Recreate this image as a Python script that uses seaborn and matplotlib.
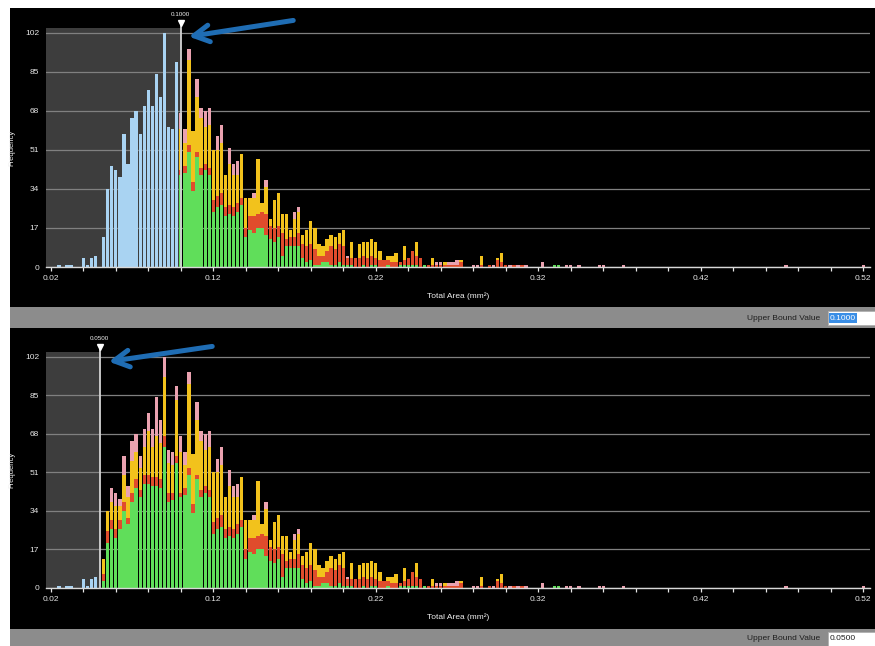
import numpy as np
import pandas as pd
import matplotlib
matplotlib.use("Agg")
import matplotlib.pyplot as plt
import seaborn as sns
from matplotlib.patches import Rectangle, FancyArrowPatch

# histogram bins are 0.0025 wide, bars sit on the bin start value
BIN = 0.0025

# counts for bins starting at 0.0200 .. 0.0500 (below the lower threshold)
low_counts = [0, 0, 1, 0, 1, 1, 0, 0, 4, 1, 4, 5, 0]

# stacked classes for bins starting at 0.0525 .. 0.3700
green = [3, 20, 26, 22, 26, 34, 28, 38, 44, 40,
         46, 46, 45, 45, 44, 62, 38, 39, 55, 40,
         41, 50, 33, 48, 40, 42, 40, 24, 26, 27,
         22, 23, 22, 24, 27, 13, 16, 15, 17, 17,
         14, 12, 11, 13, 5, 9, 9, 9, 9, 4,
         2, 3, 1, 1, 2, 2, 1, 1, 2, 1,
         1, 1, 0, 0, 1, 0, 1, 1, 0, 0,
         1, 0, 0, 1, 1, 1, 1, 1, 0, 1,
         0, 0, 0, 0, 0, 0, 0, 0, 0, 0,
         0, 0, 0, 0, 0, 0, 0, 0, 0, 0,
         0, 0, 0, 0, 0, 0, 0, 0, 0, 0,
         0, 1, 1, 0, 0, 0, 0, 0, 0, 0,
         0, 0, 0, 0, 0, 0, 0, 0, 0]
red = [3, 5, 4, 4, 4, 4, 3, 4, 4, 3,
       4, 4, 4, 4, 4, 5, 4, 3, 3, 2,
       3, 3, 4, 2, 3, 3, 3, 5, 5, 5,
       4, 4, 4, 4, 3, 4, 6, 7, 6, 7,
       9, 6, 6, 5, 10, 3, 4, 4, 6, 6,
       7, 7, 7, 4, 3, 5, 8, 7, 8, 8,
       3, 3, 4, 4, 4, 4, 4, 3, 3, 3,
       2, 2, 2, 1, 2, 3, 6, 4, 4, 0,
       1, 1, 1, 1, 1, 1, 1, 1, 2, 0,
       0, 0, 0, 1, 0, 1, 0, 3, 2, 1,
       0, 1, 0, 1, 0, 0, 0, 0, 0, 0,
       0, 0, 0, 0, 0, 0, 0, 0, 0, 0,
       0, 0, 0, 0, 0, 0, 0, 0, 0]
yellow = [7, 9, 8, 10, 6, 12, 9, 14, 12, 10,
          12, 19, 13, 18, 16, 26, 13, 12, 25, 18,
          10, 37, 22, 24, 22, 16, 19, 22, 20, 22,
          14, 18, 14, 12, 19, 13, 8, 8, 24, 4,
          12, 3, 12, 14, 8, 11, 3, 8, 9, 4,
          7, 10, 9, 5, 4, 5, 5, 5, 5, 7,
          0, 7, 0, 6, 6, 7, 7, 7, 4, 0,
          2, 3, 4, 0, 6, 0, 0, 6, 0, 0,
          0, 3, 0, 0, 1, 0, 0, 0, 1, 0,
          0, 0, 0, 4, 0, 0, 0, 1, 4, 0,
          0, 0, 0, 0, 0, 0, 0, 0, 0, 0,
          0, 0, 0, 0, 0, 0, 0, 0, 0, 0,
          0, 0, 0, 0, 0, 0, 0, 0, 0]
pink = [0, 0, 6, 6, 3, 8, 5, 9, 8, 5,
        8, 8, 8, 17, 10, 9, 6, 6, 6, 7,
        6, 5, 0, 8, 4, 7, 7, 0, 6, 8,
        0, 7, 5, 6, 0, 0, 0, 2, 0, 0,
        3, 0, 0, 0, 0, 0, 0, 3, 2, 0,
        0, 0, 0, 0, 0, 0, 0, 0, 0, 0,
        1, 0, 0, 0, 0, 0, 0, 0, 0, 0,
        0, 0, 0, 0, 0, 0, 0, 0, 0, 0,
        0, 0, 1, 1, 0, 1, 1, 2, 0, 0,
        0, 1, 1, 0, 0, 0, 1, 0, 0, 0,
        1, 0, 1, 0, 1, 0, 0, 0, 2, 0,
        0, 0, 0, 0, 1, 1, 0, 1, 0, 0,
        0, 0, 1, 1, 0, 0, 0, 0, 1]

# two isolated large objects
far_area = [0.4725, 0.5200]
far_pink = [1, 1]

thresholds = [0.1000, 0.0500]
threshold_labels = ["0.1000", "0.0500"]
ytick_vals = [0, 17, 34, 51, 68, 85, 102]
xtick_vals = [0.02, 0.12, 0.22, 0.32, 0.42, 0.52]

colors = {"green": "#60de5a", "red": "#e04c2c", "yellow": "#f2c21c",
          "pink": "#eaa2b0", "blue": "#a9d3f2"}
SHADE = "#3d3d3d"
ARROW = "#1f6db4"
XLIM = (0.01705, 0.52412)
YLIM = (0, 104)
FS = 6

plt.rcParams["font.family"] = ["Liberation Sans", "DejaVu Sans"]

# long table of counts
rows = []
for i, c in enumerate(low_counts):
    rows.append((round(0.02 + BIN * i, 4), c, "blue"))
for cls, vals in [("green", green), ("red", red), ("yellow", yellow), ("pink", pink)]:
    for i, c in enumerate(vals):
        rows.append((round(0.02 + BIN * (13 + i), 4), c, cls))
for a, c in zip(far_area, far_pink):
    rows.append((a, c, "pink"))
df = pd.DataFrame(rows, columns=["area", "count", "cls"])
df = df[df["count"] > 0]

# plain list, seaborn compares bins against "auto" when weights are used
edges = list(0.02 - BIN / 2 + BIN * np.arange(202))


def draw_panel(ax, threshold, label):
    ax.set_facecolor("black")
    ax.axvspan(XLIM[0], threshold, color=SHADE, lw=0, zorder=0.1)

    below = df[df["area"] < threshold - 1e-9].groupby("area", as_index=False)["count"].sum()
    above = df[df["area"] >= threshold - 1e-9]

    sns.histplot(data=below, x="area", weights="count", bins=edges,
                 color=colors["blue"], shrink=0.82, alpha=1, linewidth=0, ax=ax)
    sns.histplot(data=above, x="area", weights="count", hue="cls",
                 hue_order=["pink", "yellow", "red", "green"], palette=colors,
                 multiple="stack", bins=edges, shrink=0.82, alpha=1,
                 linewidth=0, legend=False, ax=ax)

    ax.set_xlim(XLIM)
    ax.set_ylim(YLIM)
    ax.set_axisbelow(True)
    ax.yaxis.grid(True, color="#808080", lw=0.9)
    ax.xaxis.grid(False)

    ax.set_xticks(xtick_vals, labels=[f"{v:.2f}" for v in xtick_vals])
    ax.set_xticks(np.arange(0.02, 0.53, 0.02), minor=True)
    ax.set_yticks(ytick_vals, labels=[str(v) for v in ytick_vals])
    ax.tick_params(axis="x", which="both", colors="#e6e6e6", direction="out",
                   length=3, width=0.9, labelsize=FS, pad=2.5)
    ax.tick_params(axis="y", length=0, colors="#e6e6e6", labelsize=FS, pad=5)
    for s in ["top", "right", "left"]:
        ax.spines[s].set_visible(False)
    ax.spines["bottom"].set_color("#d8d8d8")
    ax.spines["bottom"].set_linewidth(1)

    ax.set_xlabel("Total Area (mm²)", color="#f0f0f0", fontsize=FS, labelpad=8)
    ax.set_ylabel("Frequency", color="#f0f0f0", fontsize=FS - 0.5, labelpad=7)

    # upper bound marker
    ax.plot([threshold, threshold], [0, 106], color="#d4d4d4", lw=1.3,
            clip_on=False, zorder=6)
    ax.plot([threshold], [106.2], marker="v", color="white", ms=4.5,
            clip_on=False, zorder=7)
    ax.text(threshold, 109.8, label, ha="center", va="center", fontsize=4.5,
            color="#f0f0f0", clip_on=False)


W, H = 875, 646
fig = plt.figure(figsize=(W / 100, H / 100), dpi=100, facecolor="white")


def fx(px):
    return px / W


def fy(py):
    return 1 - py / H


def band(x0, y0, x1, y1, color, z=-5, ec="none"):
    fig.add_artist(Rectangle((fx(x0), fy(y1)), fx(x1) - fx(x0), fy(y0) - fy(y1),
                             transform=fig.transFigure, facecolor=color,
                             edgecolor=ec, lw=0.6, zorder=z))


# black panels and grey status strips
band(10, 8, 875, 307, "black")
band(10, 307, 875, 328, "#8c8c8c")
band(10, 328, 875, 629, "black")
band(10, 629, 875, 646, "#8c8c8c")

ax_top = fig.add_axes([fx(46), fy(267), fx(824), 239 / H])
ax_bot = fig.add_axes([fx(46), fy(588), fx(824), 236 / H])
draw_panel(ax_top, thresholds[0], threshold_labels[0])
draw_panel(ax_bot, thresholds[1], threshold_labels[1])

# "Upper Bound Value" boxes
for ymid, val, selected in [(318, "0.1000", True), (639, "0.0500", False)]:
    fig.text(fx(820), fy(ymid), "Upper Bound Value", ha="right", va="center",
             fontsize=FS, color="#1e1e1e")
    band(828, ymid - 7, 875, ymid + 7, "white", z=1, ec="#b0b0b0")
    if selected:
        fig.text(fx(830), fy(ymid), val, ha="left", va="center", fontsize=FS,
                 color="white", zorder=3,
                 bbox=dict(facecolor="#3a8ee6", edgecolor="none", pad=0.8))
    else:
        fig.text(fx(830), fy(ymid), val, ha="left", va="center", fontsize=FS,
                 color="#1e1e1e", zorder=3)

# callout arrows
for tail, head in [((296, 20), (186, 37)), ((215, 346), (106, 362))]:
    fig.add_artist(FancyArrowPatch((fx(tail[0]), fy(tail[1])), (fx(head[0]), fy(head[1])),
                                   transform=fig.transFigure,
                                   arrowstyle="->,head_length=11,head_width=6",
                                   color=ARROW, lw=3.6, zorder=10))

fig.savefig("out.png", dpi=100, facecolor="white")
